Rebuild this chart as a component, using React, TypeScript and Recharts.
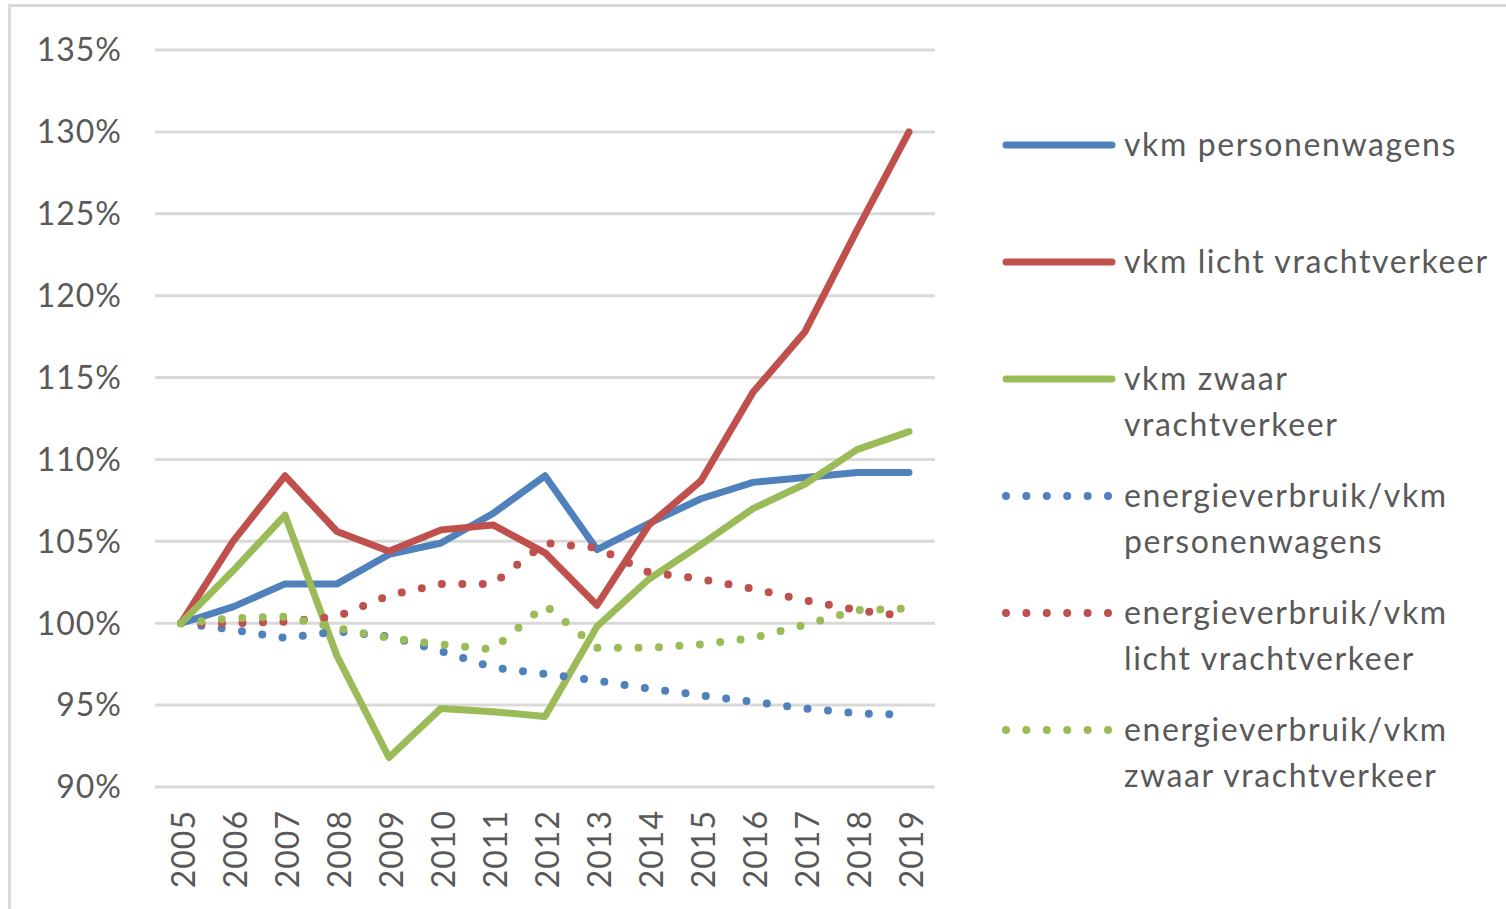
import React from "react";
import { CartesianGrid, Line, LineChart, XAxis, YAxis } from "recharts";

const YEARS = ["2005", "2006", "2007", "2008", "2009", "2010", "2011", "2012", "2013", "2014", "2015", "2016", "2017", "2018", "2019"];
const Y_TICKS = [90, 95, 100, 105, 110, 115, 120, 125, 130, 135];

const vkmPersonen = [100, 101.0, 102.4, 102.4, 104.2, 104.9, 106.7, 109.0, 104.5, 106.1, 107.6, 108.6, 108.9, 109.2, 109.2];
const vkmLicht = [100, 105.0, 109.0, 105.6, 104.4, 105.7, 106.0, 104.3, 101.1, 106.0, 108.7, 114.1, 117.8, 124.0, 130.0];
const vkmZwaar = [100, 103.2, 106.6, 98.0, 91.8, 94.8, 94.6, 94.3, 99.8, 102.7, 104.8, 107.0, 108.5, 110.6, 111.7];
const energiePersonen = [100, 99.6, 99.1, 99.5, 99.2, 98.3, 97.3, 96.9, 96.5, 96.0, 95.6, 95.2, 94.8, 94.5, 94.4];
const energieLicht = [100, 100.0, 100.1, 100.4, 101.7, 102.4, 102.4, 104.9, 104.6, 103.1, 102.7, 102.1, 101.4, 100.8, 100.4];
const energieZwaar = [100, 100.3, 100.4, 99.7, 99.1, 98.7, 98.4, 101.1, 98.5, 98.5, 98.7, 99.1, 99.9, 100.8, 100.9];

const SERIES = [
  { key: "vp", label: ["vkm personenwagens"], color: "#4f81bd", dotted: false, values: vkmPersonen },
  { key: "vl", label: ["vkm licht vrachtverkeer"], color: "#c0504d", dotted: false, values: vkmLicht },
  { key: "vz", label: ["vkm zwaar", "vrachtverkeer"], color: "#9bbb59", dotted: false, values: vkmZwaar },
  { key: "ep", label: ["energieverbruik/vkm", "personenwagens"], color: "#4f81bd", dotted: true, values: energiePersonen },
  { key: "el", label: ["energieverbruik/vkm", "licht vrachtverkeer"], color: "#c0504d", dotted: true, values: energieLicht },
  { key: "ez", label: ["energieverbruik/vkm", "zwaar vrachtverkeer"], color: "#9bbb59", dotted: true, values: energieZwaar },
];

const data = YEARS.map((year, i) => {
  const row: Record<string, string | number> = { year };
  for (const s of SERIES) row[s.key] = s.values[i];
  return row;
});

const FONT = "Lato, 'Open Sans', sans-serif";
const TEXT = "#595959";

function YearTick({ x, y, payload }: any) {
  return (
    <text
      transform={`translate(${x + 2},${y + 15}) rotate(-90)`}
      textAnchor="end"
      dy="0.36em"
      fontSize={32}
      letterSpacing={1}
      fontFamily={FONT}
      fill={TEXT}
    >
      {payload.value}
    </text>
  );
}

function LegendBox() {
  return (
    <div style={{ position: "absolute", left: 1000, top: 145 - 30, fontFamily: FONT, fontSize: 32, letterSpacing: 1.6, color: TEXT }}>
      {SERIES.map((s, i) => (
        <div key={s.key} style={{ position: "absolute", top: i * 117, left: 0, width: 506 }}>
          <svg width={120} height={60} style={{ position: "absolute", left: 0, top: 0 }}>
            {s.dotted ? (
              <line x1={6} y1={30} x2={110} y2={30} stroke={s.color} strokeWidth={8} strokeLinecap="round" strokeDasharray="0 20.4" />
            ) : (
              <line x1={6} y1={30} x2={112} y2={30} stroke={s.color} strokeWidth={7} strokeLinecap="round" />
            )}
          </svg>
          <div style={{ position: "absolute", left: 124, top: 6, lineHeight: "46px", whiteSpace: "nowrap" }}>
            {s.label.map((l) => (
              <div key={l}>{l}</div>
            ))}
          </div>
        </div>
      ))}
    </div>
  );
}

export default function App() {
  return (
    <div style={{ position: "absolute", left: 0, top: 0, width: 1506, height: 909, background: "#fff", overflow: "hidden" }}>
      <div style={{ position: "absolute", left: 8, top: 4, right: -10, bottom: -10, borderLeft: "3px solid #d9d9d9", borderTop: "3px solid #d9d9d9" }} />
      <LineChart width={1506} height={909} data={data} margin={{ top: 50, right: 571, bottom: 22, left: 0 }}>
        <CartesianGrid vertical={false} stroke="#d9d9d9" strokeWidth={3} />
        <XAxis
          dataKey="year"
          axisLine={false}
          tickLine={false}
          height={100}
          interval={0}
          padding={{ left: 26, right: 26 }}
          tick={<YearTick />}
        />
        <YAxis
          width={155}
          domain={[90, 135]}
          ticks={Y_TICKS}
          axisLine={false}
          tickLine={false}
          tickSize={0}
          tickMargin={33}
          tickFormatter={(v: number) => `${v}%`}
          tick={{ fontSize: 32, fontFamily: FONT, fill: TEXT, letterSpacing: 1 }}
        />
        {SERIES.map((s) => (
          <Line
            key={s.key}
            dataKey={s.key}
            stroke={s.color}
            strokeWidth={s.dotted ? 8 : 7}
            strokeLinecap="round"
            strokeLinejoin="round"
            strokeDasharray={s.dotted ? "0 20.5" : undefined}
            dot={false}
            activeDot={false}
            isAnimationActive={false}
            type="linear"
          />
        ))}
      </LineChart>
      <LegendBox />
    </div>
  );
}
